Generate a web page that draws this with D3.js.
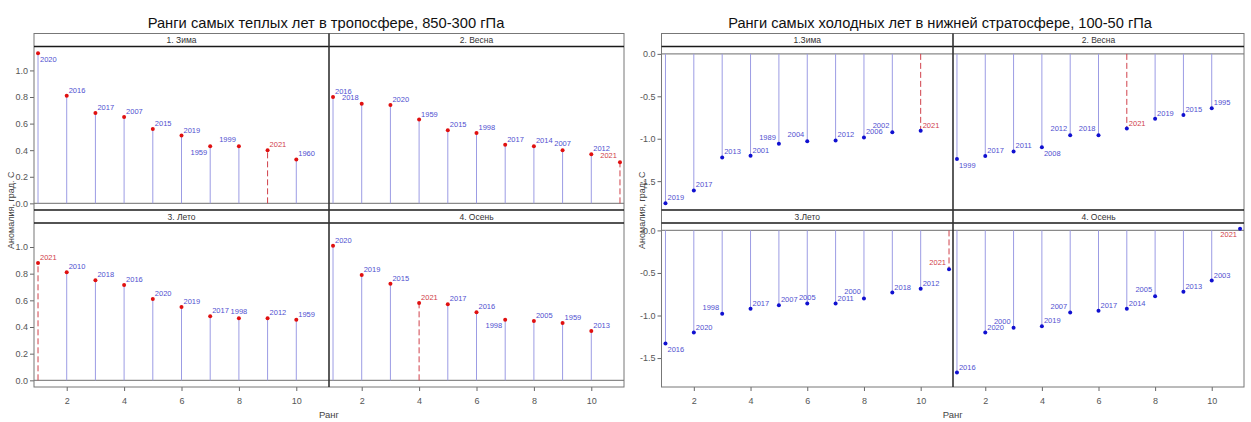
<!DOCTYPE html>
<html>
<head>
<meta charset="utf-8">
<script src="https://cdn.jsdelivr.net/npm/d3@7"></script>
<style>
body { margin: 0; background: #fff; }
text { font-family: "Liberation Sans Narrow", "Arial Narrow", "Liberation Sans", sans-serif; }
</style>
</head>
<body>
<svg id="chart" width="1251" height="422"></svg>
<script>
// ---- Data ----
var warmTitle = 'Ранги самых теплых лет в тропосфере, 850-300 гПа';
var coldTitle = 'Ранги самых холодных лет в нижней стратосфере, 100-50 гПа';
var yAxisLabel = 'Аномалия, град. С';
var xAxisLabel = 'Ранг';
var highlightYear = '2021';

var warmSeasons = ['1. Зима', '2. Весна', '3. Лето', '4. Осень'];
var coldSeasons = ['1.Зима', '2. Весна', '3.Лето', '4. Осень'];

var rankTicks = [2, 4, 6, 8, 10];
var warmYTicks = [0, 0.2, 0.4, 0.6, 0.8, 1.0];
var coldYTicks = [0, -0.5, -1.0, -1.5];

// troposphere, warmest years
var warmWinterYears = ['2020', '2016', '2017', '2007', '2015', '2019', '1959', '1999', '2021', '1960'];
var warmWinterValues = [1.13, 0.81, 0.68, 0.65, 0.56, 0.51, 0.43, 0.43, 0.40, 0.33];
var warmSpringYears = ['2016', '2018', '2020', '1959', '2015', '1998', '2017', '2014', '2007', '2012', '2021'];
var warmSpringValues = [0.80, 0.75, 0.74, 0.63, 0.55, 0.53, 0.44, 0.43, 0.40, 0.37, 0.31];
var warmSummerYears = ['2021', '2010', '2018', '2016', '2020', '2019', '2017', '1998', '2012', '1959'];
var warmSummerValues = [0.88, 0.81, 0.75, 0.715, 0.61, 0.55, 0.48, 0.465, 0.465, 0.455];
var warmAutumnYears = ['2020', '2019', '2015', '2021', '2017', '2016', '1998', '2005', '1959', '2013'];
var warmAutumnValues = [1.01, 0.79, 0.725, 0.58, 0.57, 0.51, 0.455, 0.445, 0.43, 0.37];

// lower stratosphere, coldest years
var coldWinterYears = ['2019', '2017', '2013', '2001', '1989', '2004', '2012', '2006', '2002', '2021'];
var coldWinterValues = [-1.76, -1.61, -1.22, -1.20, -1.06, -1.03, -1.02, -0.985, -0.925, -0.905];
var coldSpringYears = ['1999', '2017', '2011', '2008', '2012', '2018', '2021', '2019', '2015', '1995'];
var coldSpringValues = [-1.24, -1.205, -1.15, -1.10, -0.96, -0.96, -0.88, -0.765, -0.72, -0.64];
var coldSummerYears = ['2016', '2020', '1998', '2017', '2007', '2005', '2011', '2000', '2018', '2012', '2021'];
var coldSummerValues = [-1.33, -1.20, -0.98, -0.92, -0.88, -0.86, -0.86, -0.80, -0.73, -0.685, -0.455];
var coldAutumnYears = ['2016', '2020', '2000', '2019', '2007', '2017', '2014', '2005', '2013', '2003', '2021'];
var coldAutumnValues = [-1.67, -1.20, -1.145, -1.125, -0.965, -0.945, -0.92, -0.775, -0.72, -0.59, 0.02];

// where each year label sits next to its dot
var warmWinterLabelSide = ['se', 'ne', 'ne', 'ne', 'ne', 'ne', 'sw', 'nw', 'ne', 'ne'];
var warmSpringLabelSide = ['ne', 'nw', 'ne', 'ne', 'ne', 'ne', 'ne', 'ne', 'n', 'ne', 'nw'];
var warmSummerLabelSide = ['ne', 'ne', 'ne', 'ne', 'ne', 'ne', 'ne', 'n', 'ne', 'ne'];
var warmAutumnLabelSide = ['ne', 'ne', 'ne', 'ne', 'ne', 'ne', 'sw', 'ne', 'ne', 'ne'];
var coldWinterLabelSide = ['ne', 'ne', 'ne', 'ne', 'nw', 'nw', 'ne', 'ne', 'nw', 'ne'];
var coldSpringLabelSide = ['se', 'ne', 'ne', 'se', 'nw', 'nw', 'ne', 'ne', 'ne', 'ne'];
var coldSummerLabelSide = ['se', 'ne', 'nw', 'ne', 'ne', 'n', 'ne', 'nw', 'ne', 'ne', 'nw'];
var coldAutumnLabelSide = ['ne', 'ne', 'nw', 'ne', 'nw', 'ne', 'ne', 'nw', 'ne', 'ne', 'sw'];

// ---- Styles ----
var needleColor = '#9c9ce4';
var highlightColor = '#d0404a';
var yearLabelColor = '#5050d0';
var frameColor = '#777';
var stripLineColor = '#1a1a1a';
var baselineColor = '#8a8a8a';
var tickTextColor = '#555';
var fontFamily = '"Liberation Sans Narrow", "Arial Narrow", sans-serif';

var svg = d3.select('#chart');

function panelData(years, values, sides) {
    return years.map(function(y, i) {
        return { rank: i + 1, year: y, value: values[i], side: sides[i] };
    });
}

var warmPanels = [
    panelData(warmWinterYears, warmWinterValues, warmWinterLabelSide),
    panelData(warmSpringYears, warmSpringValues, warmSpringLabelSide),
    panelData(warmSummerYears, warmSummerValues, warmSummerLabelSide),
    panelData(warmAutumnYears, warmAutumnValues, warmAutumnLabelSide)
];
var coldPanels = [
    panelData(coldWinterYears, coldWinterValues, coldWinterLabelSide),
    panelData(coldSpringYears, coldSpringValues, coldSpringLabelSide),
    panelData(coldSummerYears, coldSummerValues, coldSummerLabelSide),
    panelData(coldAutumnYears, coldAutumnValues, coldAutumnLabelSide)
];

function labelOffset(side) {
    switch (side) {
        case 'nw': return { dx: -3, dy: -4, anchor: 'end' };
        case 'n':  return { dx: 0, dy: -4, anchor: 'middle' };
        case 'se': return { dx: 2, dy: 8.5, anchor: 'start' };
        case 'sw': return { dx: -3, dy: 8.5, anchor: 'end' };
        default:   return { dx: 2, dy: -3, anchor: 'start' };
    }
}

function fmtTick(d) {
    return d.toFixed(1);
}

function drawChart(opts) {
    var g = svg.append('g');
    var left = opts.left, right = opts.right, mid = opts.mid;
    var stripH = 13;
    var top1 = 33.5, p1 = top1 + stripH, bot1 = 210;
    var p2 = bot1 + stripH, bot2 = 387;
    var cols = [[left, mid], [mid, right]];
    var rows = [[p1, bot1, top1], [p2, bot2, bot1]];

    // title, font size fitted to the width seen in the picture
    var title = g.append('text')
        .attr('x', opts.titleX)
        .attr('y', 28)
        .attr('text-anchor', 'middle')
        .style('font-size', '20px')
        .style('fill', '#111')
        .text(opts.title);
    var natural = title.node().getComputedTextLength();
    if (natural > 0) {
        title.style('font-size', (20 * opts.titleWidth / natural).toFixed(2) + 'px');
    }

    opts.panels.forEach(function(data, i) {
        var col = cols[i % 2], row = rows[Math.floor(i / 2)];
        var x = d3.scaleLinear().domain([0.86, 11.14]).range([col[0], col[1]]);
        var y = d3.scaleLinear().domain(opts.yDomain).range([row[1], row[0]]);
        var pg = g.append('g');

        // strip label
        pg.append('text')
            .attr('x', (col[0] + col[1]) / 2)
            .attr('y', row[2] + 9.5)
            .attr('text-anchor', 'middle')
            .style('font-size', '8.5px')
            .style('fill', '#333')
            .text(opts.seasons[i]);

        // zero baseline
        pg.append('line')
            .attr('x1', col[0]).attr('x2', col[1])
            .attr('y1', y(0)).attr('y2', y(0))
            .style('stroke', baselineColor)
            .style('stroke-width', 1.2);

        // needles
        pg.selectAll('line.needle')
            .data(data)
            .join('line')
            .attr('class', 'needle')
            .attr('x1', function(d) { return x(d.rank); })
            .attr('x2', function(d) { return x(d.rank); })
            .attr('y1', y(0))
            .attr('y2', function(d) { return y(d.value); })
            .style('stroke', function(d) { return d.year === highlightYear ? highlightColor : needleColor; })
            .style('stroke-width', 1)
            .style('stroke-dasharray', function(d) { return d.year === highlightYear ? '6,3' : null; });

        // dots
        pg.selectAll('circle')
            .data(data)
            .join('circle')
            .attr('cx', function(d) { return x(d.rank); })
            .attr('cy', function(d) { return y(d.value); })
            .attr('r', 2)
            .style('fill', opts.dotColor);

        // year labels
        pg.selectAll('text.year')
            .data(data)
            .join('text')
            .attr('class', 'year')
            .attr('x', function(d) { return x(d.rank) + labelOffset(d.side).dx; })
            .attr('y', function(d) { return y(d.value) + labelOffset(d.side).dy; })
            .attr('text-anchor', function(d) { return labelOffset(d.side).anchor; })
            .style('font-size', '7.5px')
            .style('fill', function(d) { return d.year === highlightYear ? highlightColor : yearLabelColor; })
            .text(function(d) { return d.year; });

        // y axis on left column
        if (i % 2 === 0) {
            var ay = pg.append('g')
                .attr('transform', 'translate(' + left + ',0)')
                .call(d3.axisLeft(y).tickValues(opts.yTicks).tickFormat(fmtTick).tickSize(4).tickPadding(2));
            ay.select('.domain').remove();
            ay.selectAll('line').style('stroke', '#666');
            ay.selectAll('text').style('font-size', '9px').style('fill', tickTextColor)
                .style('font-family', fontFamily);
        }
        // x axis on bottom row
        if (i >= 2) {
            var ax = pg.append('g')
                .attr('transform', 'translate(0,' + bot2 + ')')
                .call(d3.axisBottom(x).tickValues(rankTicks).tickSize(4).tickPadding(7));
            ax.select('.domain').remove();
            ax.selectAll('line').style('stroke', '#666');
            ax.selectAll('text').style('font-size', '9px').style('fill', tickTextColor)
                .style('font-family', fontFamily);
        }
    });

    // frame, strips, divider
    g.append('rect')
        .attr('x', left).attr('y', top1)
        .attr('width', right - left).attr('height', bot2 - top1)
        .style('fill', 'none').style('stroke', frameColor).style('stroke-width', 1);
    [p1, bot1, p2].forEach(function(yy) {
        g.append('line')
            .attr('x1', left).attr('x2', right)
            .attr('y1', yy).attr('y2', yy)
            .style('stroke', stripLineColor).style('stroke-width', 1.6);
    });
    g.append('line')
        .attr('x1', mid).attr('x2', mid)
        .attr('y1', top1).attr('y2', bot2)
        .style('stroke', '#333').style('stroke-width', 1.6);

    // axis titles
    g.append('text')
        .attr('transform', 'translate(' + opts.yLabelX + ',' + ((top1 + bot2) / 2) + ') rotate(-90)')
        .attr('text-anchor', 'middle')
        .style('font-size', '9px')
        .style('fill', '#444')
        .text(yAxisLabel);
    g.append('text')
        .attr('x', (left + right) / 2)
        .attr('y', 418)
        .attr('text-anchor', 'middle')
        .style('font-size', '9.5px')
        .style('fill', '#444')
        .text(xAxisLabel);
}

drawChart({
    title: warmTitle, titleX: 326, titleWidth: 357,
    left: 34, right: 624, mid: 329,
    yDomain: [-0.05, 1.18], yTicks: warmYTicks,
    seasons: warmSeasons, panels: warmPanels,
    dotColor: '#e01010', yLabelX: 14
});

drawChart({
    title: coldTitle, titleX: 940, titleWidth: 424,
    left: 661.5, right: 1244, mid: 953,
    yDomain: [-1.84, 0.087], yTicks: coldYTicks,
    seasons: coldSeasons, panels: coldPanels,
    dotColor: '#1010d0', yLabelX: 645
});
</script>
</body>
</html>
